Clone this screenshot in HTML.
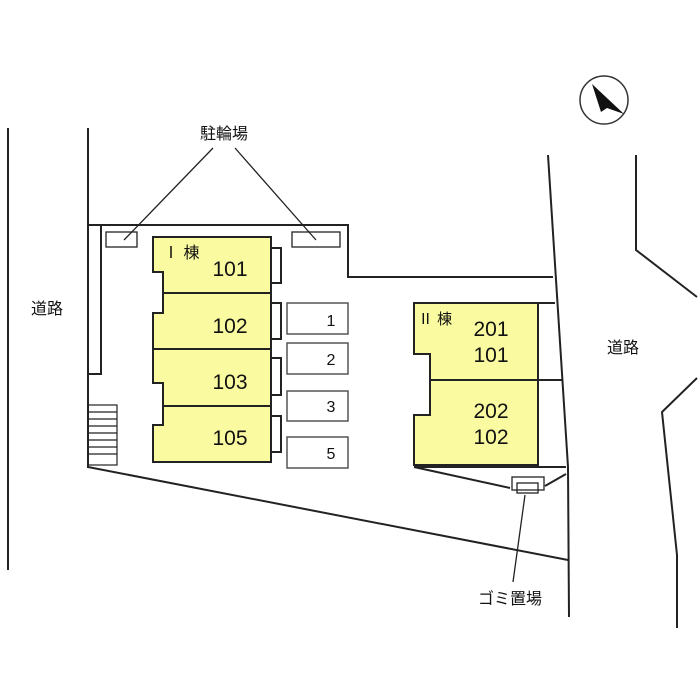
<!DOCTYPE html>
<html><head><meta charset="utf-8"><style>
html,body{margin:0;padding:0;background:#fff;}
svg{display:block}
text{font-family:"Liberation Sans","Noto Sans CJK JP",sans-serif;fill:#111}
</style></head><body>
<svg width="700" height="700" viewBox="0 0 700 700" xmlns="http://www.w3.org/2000/svg">
<g fill="none" stroke="#222" stroke-width="2">
<line x1="8" y1="128" x2="8" y2="570"/>
<line x1="88" y1="128" x2="88" y2="468"/>
<polyline points="88,225 348,225 348,277 553,277"/>
<rect x="88" y="225" width="13" height="149"/>
<line x1="88" y1="467" x2="568" y2="560"/>
<g stroke-width="1.2">
<rect x="88" y="405" width="29" height="60"/>
<line x1="88" y1="412" x2="117" y2="412"/><line x1="88" y1="419" x2="117" y2="419"/>
<line x1="88" y1="426" x2="117" y2="426"/><line x1="88" y1="433" x2="117" y2="433"/>
<line x1="88" y1="440" x2="117" y2="440"/><line x1="88" y1="447" x2="117" y2="447"/>
<line x1="88" y1="454" x2="117" y2="454"/>
</g>
<g stroke-width="1.3">
<rect x="106" y="232" width="31" height="15"/>
<rect x="292" y="232" width="48" height="15"/>
<line x1="213" y1="148" x2="124" y2="240"/>
<line x1="235" y1="148" x2="316" y2="240"/>
</g>
<polyline points="548,155 568,467 569,617"/>
<polyline points="636,155 636,250 697,297"/>
<polyline points="697,378 662,412 677,555 677,628"/>
</g>
<path d="M153,237 H271 V462 H153 V425 H163 V383 H153 V313 H163 V272 H153 Z" fill="#fafaa0" stroke="#222" stroke-width="2"/>
<g stroke="#222" stroke-width="2" fill="none">
<line x1="163" y1="293" x2="271" y2="293"/>
<line x1="153" y1="349" x2="271" y2="349"/>
<line x1="163" y1="406" x2="271" y2="406"/>
<polyline points="271,248 281,248 281,283 271,283"/>
<polyline points="271,303 281,303 281,339 271,339"/>
<polyline points="271,358 281,358 281,395 271,395"/>
<polyline points="271,416 281,416 281,452 271,452"/>
</g>
<g fill="#fff" stroke="#555" stroke-width="1.5">
<rect x="287" y="303" width="61" height="31"/>
<rect x="287" y="343" width="61" height="31"/>
<rect x="287" y="391" width="61" height="30"/>
<rect x="287" y="437" width="61" height="31"/>
</g>
<text x="163" y="258" font-size="16">Ⅰ 棟</text>
<g font-size="21" text-anchor="middle">
<text x="230" y="276">101</text>
<text x="230" y="333">102</text>
<text x="230" y="389">103</text>
<text x="230" y="445">105</text>
</g>
<g font-size="16" text-anchor="middle">
<text x="331" y="326">1</text>
<text x="331" y="365">2</text>
<text x="331" y="412">3</text>
<text x="331" y="459">5</text>
</g>
<path d="M414,303 H538 V465 H414 V415 H430 V354 H414 Z" fill="#fafaa0" stroke="#222" stroke-width="2"/>
<g stroke="#222" stroke-width="2" fill="none">
<line x1="430" y1="380" x2="563" y2="380"/>
<line x1="538" y1="303" x2="555" y2="303"/>
<polyline points="414,467 510,488"/>
<line x1="414" y1="467" x2="566" y2="467"/>
<line x1="545" y1="486" x2="566" y2="474"/>
<rect x="512" y="477" width="32" height="13" stroke-width="1.3"/>
<rect x="517" y="483" width="21" height="10" stroke-width="1.3"/>
<line x1="525" y1="495" x2="513" y2="582" stroke-width="1.3"/>
</g>
<text x="418" y="324" font-size="15">Ⅱ 棟</text>
<g font-size="21" text-anchor="middle">
<text x="491" y="336">201</text>
<text x="491" y="362">101</text>
<text x="491" y="418">202</text>
<text x="491" y="444">102</text>
</g>
<g font-size="16" text-anchor="middle">
<text x="224" y="139">駐輪場</text>
<text x="47" y="314">道路</text>
<text x="623" y="353">道路</text>
<text x="510" y="604">ゴミ置場</text>
</g>
<circle cx="604" cy="100" r="24" fill="#fff" stroke="#333" stroke-width="1.5"/>
<polygon points="592,84 624,114 607,108 601,112" fill="#111"/>
</svg>
</body></html>
